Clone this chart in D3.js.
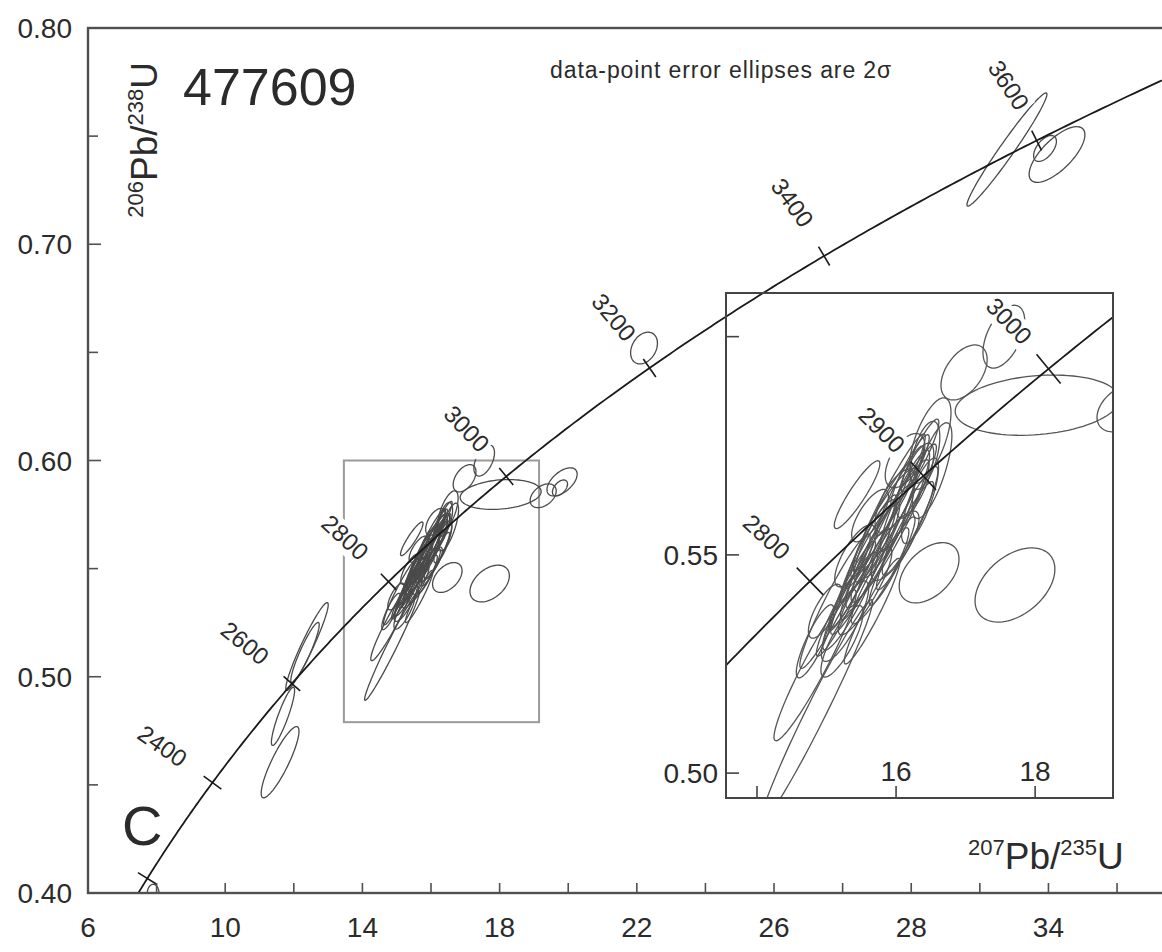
<!DOCTYPE html>
<html>
<head>
<meta charset="utf-8">
<script src="https://cdn.jsdelivr.net/npm/d3@7"></script>
<style>
  body { margin: 0; background: #fff; }
  svg { display: block; }
  text { font-family: "Liberation Sans", Arial, Helvetica, sans-serif; fill: #2b2b2b; }
</style>
</head>
<body>
<svg id="chart" width="1162" height="952"></svg>
<script>
// U–Pb decay constants (per year)
const LAMBDA_238 = 1.55125e-10;
const LAMBDA_235 = 9.8485e-10;

// Concordia age markers (Ma)
const ageTicks = [2200, 2400, 2600, 2800, 3000, 3200, 3400, 3600];
const ageLabels = [2400, 2600, 2800, 3000, 3200, 3400, 3600];
const insetAgeTicks = [2800, 2900, 3000];

// Main axes ticks
const xTickValues = [6, 10, 14, 18, 22, 26, 30, 34];
const xTickLabels = ["6", "10", "14", "18", "22", "26", "28", "34"];
const xMinorValues = [8, 12, 16, 20, 24, 28, 32, 36];
const yTickValues = [0.40, 0.50, 0.60, 0.70, 0.80];
const yTickLabels = ["0.40", "0.50", "0.60", "0.70", "0.80"];
const yMinorValues = [0.45, 0.55, 0.65, 0.75];

// Inset axes ticks
const insetXTicks = [14, 16, 18];
const insetXLabels = ["", "16", "18"];
const insetYTicks = [0.50, 0.55, 0.60];
const insetYLabels = ["0.50", "0.55", ""];

// Enlarged window shown in the inset
const zoomWindowX = [13.46, 19.15];
const zoomWindowY = [0.479, 0.600];

// Analyses: 207Pb/235U, 206Pb/238U, 2-sigma errors and error correlation
const ratio207 = [11.600, 11.685, 12.385, 12.327,
  14.835, 14.863, 15.122, 14.835, 15.439, 16.489, 16.518, 16.058, 15.914, 15.770,
  15.626, 16.129, 15.842, 15.482, 15.338, 15.698, 16.273, 15.986, 15.554, 15.266,
  16.129, 16.345, 15.770, 15.410, 15.986, 16.417, 15.223, 14.978, 16.201, 15.626,
  15.885, 15.741, 15.597, 16.058, 16.201, 15.511, 15.367, 15.942, 16.129, 15.655, 16.345, 15.194,
  16.475, 17.710, 16.978, 17.550, 18.030, 19.270, 19.820, 19.760,
  22.210, 32.790, 34.250, 33.900, 7.900];
const ratio206 = [0.4605, 0.4817, 0.5140, 0.5112,
  0.5247, 0.5144, 0.5394, 0.5302, 0.5638, 0.5762, 0.5693, 0.5601, 0.5555, 0.5521,
  0.5486, 0.5624, 0.5578, 0.5440, 0.5394, 0.5532, 0.5670, 0.5624, 0.5417, 0.5348,
  0.5716, 0.5624, 0.5452, 0.5498, 0.5521, 0.5728, 0.5302, 0.5371, 0.5578, 0.5590,
  0.5613, 0.5567, 0.5514, 0.5647, 0.5693, 0.5475, 0.5429, 0.5486, 0.5544, 0.5371, 0.5728, 0.5371,
  0.5459, 0.5431, 0.5918, 0.6000, 0.5843, 0.5837, 0.5901, 0.5873,
  0.6520, 0.7438, 0.7415, 0.7443, 0.4000];
const err207 = [0.551, 0.338, 0.618, 0.414,
  0.591, 0.799, 0.506, 0.270, 0.328, 0.301, 0.285, 0.522, 0.561, 0.493,
  0.426, 0.353, 0.456, 0.422, 0.393, 0.304, 0.269, 0.288, 0.385, 0.340,
  0.285, 0.266, 0.414, 0.292, 0.344, 0.212, 0.304, 0.239, 0.400, 0.265,
  0.535, 0.469, 0.406, 0.338, 0.276, 0.469, 0.338, 0.330, 0.410, 0.400, 0.270, 0.340,
  0.430, 0.574, 0.332, 0.300, 1.180, 0.380, 0.440, 0.220,
  0.391, 1.166, 0.813, 0.332, 0.170];
const err206 = [0.01647, 0.01347, 0.02030, 0.01394,
  0.01729, 0.02533, 0.01540, 0.00837, 0.00777, 0.00979, 0.01097, 0.01526, 0.01630, 0.01425,
  0.01347, 0.01159, 0.01202, 0.01221, 0.01122, 0.00943, 0.00860, 0.00724, 0.01002, 0.00922,
  0.00621, 0.00977, 0.01101, 0.00710, 0.00795, 0.00780, 0.00820, 0.00618, 0.01244, 0.00600,
  0.01641, 0.01437, 0.01232, 0.01028, 0.00823, 0.01437, 0.01028, 0.01010, 0.01240, 0.01210, 0.00830, 0.01030,
  0.00690, 0.00850, 0.00630, 0.00720, 0.00690, 0.00550, 0.00650, 0.00370,
  0.00734, 0.02617, 0.01287, 0.00600, 0.00400];
const errCorr = [0.87, 0.89, 0.95, 0.92,
  0.95, 0.98, 0.95, 0.85, 0.91, 0.65, 0.73, 0.95, 0.94, 0.93,
  0.94, 0.90, 0.90, 0.94, 0.91, 0.85, 0.72, 0.69, 0.88, 0.82,
  0.55, 0.78, 0.92, 0.75, 0.78, 0.54, 0.81, 0.74, 0.92, 0.73,
  0.96, 0.96, 0.945, 0.944, 0.913, 0.96, 0.944, 0.93, 0.94, 0.95, 0.91, 0.94,
  0.45, 0.425, 0.47, 0.50, 0.20, 0.40, 0.55, 0.50,
  0.30, 0.976, 0.71, 0.55, 0.0];

const analyses = ratio207.map((v, i) => ({
  x: v, y: ratio206[i], ex: err207[i], ey: err206[i], rho: errCorr[i]
}));

const svg = d3.select("#chart");

// Scales
const x = d3.scaleLinear().domain([6, 37.5]).range([88, 1168.5]);
const y = d3.scaleLinear().domain([0.40, 0.80]).range([893, 28]);
const ix = d3.scaleLinear().domain([13.554, 19.12]).range([726, 1113]);
const iy = d3.scaleLinear().domain([0.4943, 0.6100]).range([798, 293]);

// Concordia ratios for an age in Ma
const concordia = t => ({
  x: Math.expm1(LAMBDA_235 * t * 1e6),
  y: Math.expm1(LAMBDA_238 * t * 1e6)
});
const curveAges = d3.range(2000, 3801, 5);

// 2-sigma error ellipse outline in data units
function ellipsePoints(d, n = 90) {
  const s = Math.sqrt(1 - d.rho * d.rho);
  return d3.range(n).map(i => {
    const a = 2 * Math.PI * i / n;
    return [d.x + d.ex * Math.cos(a), d.y + d.ey * (d.rho * Math.cos(a) + s * Math.sin(a))];
  });
}

// Position and normal of the concordia at age t in screen space
function tickGeom(t, sx, sy) {
  const p = concordia(t);
  const kx = sx(1) - sx(0), ky = sy(1) - sy(0);
  const dx = LAMBDA_235 * Math.exp(LAMBDA_235 * t * 1e6) * kx;
  const dy = LAMBDA_238 * Math.exp(LAMBDA_238 * t * 1e6) * ky;
  const len = Math.hypot(dx, dy);
  const tx = dx / len, ty = dy / len;
  return { px: sx(p.x), py: sy(p.y), nx: ty, ny: -tx };
}

function drawPanel(g, sx, sy, clipId, ticks, labels, tickLen, labelDist, ellStroke) {
  const clip = g.append("g").attr("clip-path", `url(#${clipId})`);

  const ellLine = d3.line().x(p => sx(p[0])).y(p => sy(p[1])).curve(d3.curveLinearClosed);
  clip.append("g").selectAll("path").data(analyses).join("path")
    .attr("d", d => ellLine(ellipsePoints(d)))
    .attr("fill", "none").attr("stroke", ellStroke).attr("stroke-width", 1.3);

  const cLine = d3.line().x(t => sx(concordia(t).x)).y(t => sy(concordia(t).y));
  clip.append("path").datum(curveAges).attr("d", cLine)
    .attr("fill", "none").attr("stroke", "#1a1a1a").attr("stroke-width", 1.8);

  clip.append("g").selectAll("line").data(ticks).join("line")
    .each(function (t) {
      const k = tickGeom(t, sx, sy);
      d3.select(this)
        .attr("x1", k.px - k.nx * tickLen / 2).attr("y1", k.py - k.ny * tickLen / 2)
        .attr("x2", k.px + k.nx * tickLen / 2).attr("y2", k.py + k.ny * tickLen / 2);
    })
    .attr("stroke", "#1a1a1a").attr("stroke-width", 1.6);

  labels.forEach(t => {
    const k = tickGeom(t, sx, sy);
    const a = Math.atan2(-k.ny, -k.nx) * 180 / Math.PI;
    const rot = 0.8 * a + 6;
    const lg = clip.append("g")
      .attr("transform", `translate(${k.px + k.nx * labelDist},${k.py + k.ny * labelDist}) rotate(${rot})`);
    const bg = lg.append("rect").attr("fill", "#fff");
    const txt = lg.append("text").attr("text-anchor", "middle").attr("dy", "0.36em")
      .attr("font-size", 24).attr("fill", "#333").text(t);
    const bb = txt.node().getBBox();
    bg.attr("x", bb.x - 2).attr("y", bb.y + 1).attr("width", bb.width + 4).attr("height", bb.height);
  });
}

const defs = svg.append("defs");
defs.append("clipPath").attr("id", "mainClip").append("rect")
  .attr("x", x(6)).attr("y", y(0.80)).attr("width", x(37.5) - x(6)).attr("height", y(0.40) - y(0.80));
defs.append("clipPath").attr("id", "insetClip").append("rect")
  .attr("x", ix(13.554)).attr("y", iy(0.6100)).attr("width", ix(19.12) - ix(13.554)).attr("height", iy(0.4943) - iy(0.6100));

// ---------- main panel ----------
const main = svg.append("g");

// window enlarged in the inset
main.append("rect")
  .attr("x", x(zoomWindowX[0])).attr("y", y(zoomWindowY[1]))
  .attr("width", x(zoomWindowX[1]) - x(zoomWindowX[0]))
  .attr("height", y(zoomWindowY[0]) - y(zoomWindowY[1]))
  .attr("fill", "none").attr("stroke", "#9a9a9a").attr("stroke-width", 2);

drawPanel(main, x, y, "mainClip", ageTicks, ageLabels, 22, 62, "#4a4a4a");

// frame
main.append("rect")
  .attr("x", x(6)).attr("y", y(0.80)).attr("width", x(37.5) - x(6)).attr("height", y(0.40) - y(0.80))
  .attr("fill", "none").attr("stroke", "#505050").attr("stroke-width", 2.4);

// axis ticks (inward)
main.append("g").selectAll("line").data(xTickValues.concat(xMinorValues).filter(v => v > 6)).join("line")
  .attr("x1", d => x(d)).attr("x2", d => x(d)).attr("y1", y(0.40)).attr("y2", y(0.40) - 10)
  .attr("stroke", "#505050").attr("stroke-width", 1.6);
main.append("g").selectAll("line").data(yTickValues.slice(1, -1)).join("line")
  .attr("x1", x(6)).attr("x2", x(6) + 13).attr("y1", d => y(d)).attr("y2", d => y(d))
  .attr("stroke", "#505050").attr("stroke-width", 1.6);
main.append("g").selectAll("line").data(yMinorValues).join("line")
  .attr("x1", x(6)).attr("x2", x(6) + 10).attr("y1", d => y(d)).attr("y2", d => y(d))
  .attr("stroke", "#505050").attr("stroke-width", 1.6);

// tick labels
main.append("g").selectAll("text").data(xTickValues).join("text")
  .attr("x", d => x(d)).attr("y", 937).attr("text-anchor", "middle").attr("font-size", 28)
  .text((d, i) => xTickLabels[i]);
main.append("g").selectAll("text").data(yTickValues).join("text")
  .attr("x", 72).attr("y", d => y(d)).attr("dy", "0.36em").attr("text-anchor", "end").attr("font-size", 28)
  .text((d, i) => yTickLabels[i]);

// axis titles
const xTitle = main.append("text").attr("x", 968).attr("y", 869).attr("font-size", 37);
xTitle.append("tspan").attr("font-size", 22).attr("dy", -14).text("207");
xTitle.append("tspan").attr("dy", 14).text("Pb/");
xTitle.append("tspan").attr("font-size", 22).attr("dy", -14).text("235");
xTitle.append("tspan").attr("dy", 14).text("U");

const yTitle = main.append("text").attr("transform", "translate(157,62) rotate(-90)")
  .attr("text-anchor", "end").attr("font-size", 37);
yTitle.append("tspan").attr("font-size", 22).attr("dy", -14).text("206");
yTitle.append("tspan").attr("dy", 14).text("Pb/");
yTitle.append("tspan").attr("font-size", 22).attr("dy", -14).text("238");
yTitle.append("tspan").attr("dy", 14).text("U");

// sample name, panel letter, note
main.append("text").attr("x", 183).attr("y", 105).attr("font-size", 52).attr("fill", "#222").text("477609");
main.append("text").attr("x", 122).attr("y", 845).attr("font-size", 56).attr("fill", "#222").text("C");
main.append("text").attr("x", 550).attr("y", 78).attr("font-size", 23).attr("letter-spacing", 0.9)
  .attr("fill", "#333").text("data-point error ellipses are 2σ");

// ---------- inset panel ----------
const inset = svg.append("g");
drawPanel(inset, ix, iy, "insetClip", insetAgeTicks, insetAgeTicks, 38, 62, "#555");

inset.append("rect")
  .attr("x", ix(13.554)).attr("y", iy(0.6100)).attr("width", ix(19.12) - ix(13.554)).attr("height", iy(0.4943) - iy(0.6100))
  .attr("fill", "none").attr("stroke", "#444").attr("stroke-width", 2);

inset.append("g").selectAll("line").data(insetXTicks).join("line")
  .attr("x1", d => ix(d)).attr("x2", d => ix(d)).attr("y1", iy(0.4943)).attr("y2", iy(0.4943) - 12)
  .attr("stroke", "#444").attr("stroke-width", 1.6);
inset.append("g").selectAll("line").data(insetYTicks).join("line")
  .attr("x1", ix(13.554)).attr("x2", ix(13.554) + 13).attr("y1", d => iy(d)).attr("y2", d => iy(d))
  .attr("stroke", "#444").attr("stroke-width", 1.6);

inset.append("g").selectAll("text").data(insetXTicks).join("text")
  .attr("x", d => ix(d)).attr("y", 781).attr("text-anchor", "middle").attr("font-size", 28)
  .text((d, i) => insetXLabels[i]);
inset.append("g").selectAll("text").data(insetYTicks).join("text")
  .attr("x", 718).attr("y", d => iy(d)).attr("dy", "0.36em").attr("text-anchor", "end").attr("font-size", 28)
  .text((d, i) => insetYLabels[i]);
</script>
</body>
</html>
